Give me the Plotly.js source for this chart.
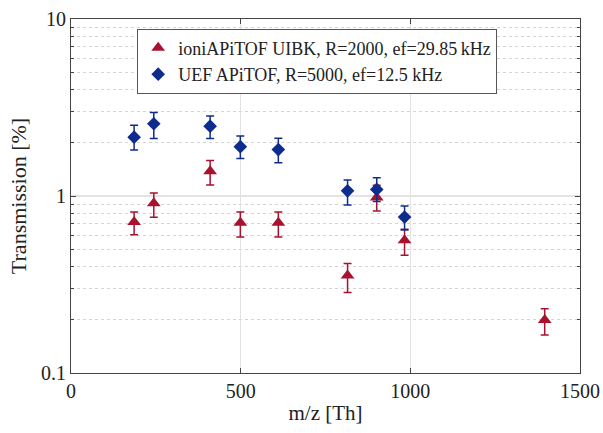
<!DOCTYPE html>
<html><head><meta charset="utf-8">
<script src="https://cdn.plot.ly/plotly-3.0.1.min.js"></script>
<style>html,body{margin:0;padding:0;background:#fff}#c{width:603px;height:433px}</style>
</head><body><div id="c"></div>
<script>
const mzIoni = [186, 244, 410, 499, 611, 815, 901, 983, 1396];
const trIoni = [0.713, 0.91, 1.38, 0.707, 0.707, 0.356, 0.98, 0.562, 0.199];
const errIoniPlus = [0.10, 0.13, 0.205, 0.105, 0.105, 0.059, 0.17, 0.086, 0.032];
const errIoniMinus = [0.108, 0.152, 0.226, 0.12, 0.12, 0.071, 0.157, 0.10, 0.035];

const mzUef = [186, 244, 410, 499, 611, 815, 901, 983];
const trUef = [2.15, 2.56, 2.48, 1.90, 1.83, 1.07, 1.09, 0.76];
const errUefPlus = [0.36, 0.40, 0.35, 0.28, 0.29, 0.16, 0.18, 0.118];
const errUefMinus = [0.33, 0.45, 0.37, 0.27, 0.29, 0.18, 0.16, 0.117];

const xTicks = [0, 500, 1000, 1500];
const yTicks = [0.1, 1, 10];
const yTickText = ['0.1', '1', '10'];

const red = '#A8122F', blue = '#0E2C8E';
const font = 'Liberation Serif, Times New Roman, serif';

const traces = [
  {x: mzIoni, y: trIoni, mode: 'markers', type: 'scatter',
   name: 'ioniAPiTOF UIBK, R=2000, ef=29.85\u2009kHz',
   marker: {symbol: 'triangle-up', size: 12, color: red},
   error_y: {type: 'data', symmetric: false, array: errIoniPlus, arrayminus: errIoniMinus,
             color: red, thickness: 1.5, width: 4}},
  {x: mzUef, y: trUef, mode: 'markers', type: 'scatter',
   name: 'UEF APiTOF, R=5000, ef=12.5 kHz',
   marker: {symbol: 'diamond', size: 10.5, color: blue},
   error_y: {type: 'data', symmetric: false, array: errUefPlus, arrayminus: errUefMinus,
             color: blue, thickness: 1.5, width: 4}}
];

const minorY = [];
[0.1, 1].forEach(d => { for (let k = 2; k <= 9; k++) minorY.push(+(d * k).toFixed(3)); });

const layout = {
  width: 603, height: 433,
  margin: {l: 71, r: 23, t: 19, b: 60},
  paper_bgcolor: '#fff', plot_bgcolor: '#fff',
  font: {family: font, size: 20, color: '#222'},
  showlegend: true,
  legend: {x: 0.13, y: 0.973, xanchor: 'left', yanchor: 'top',
           bgcolor: '#fff', bordercolor: '#555', borderwidth: 1,
           font: {family: font, size: 18, color: '#222'},
           tracegroupgap: 0, itemwidth: 30},
  xaxis: {range: [0, 1500], tickmode: 'array', tickvals: xTicks,
          ticks: 'inside', ticklen: 5, tickcolor: '#444', mirror: 'ticks',
          showline: true, linecolor: '#444', linewidth: 1,
          showgrid: true, gridcolor: '#e3e3e3', gridwidth: 1, zeroline: false,
          title: {text: 'm/z [Th]', font: {family: font, size: 21}, standoff: 4},
          tickfont: {family: font, size: 20}},
  yaxis: {type: 'log', range: [-1, 1], tickmode: 'array', tickvals: yTicks, ticktext: yTickText,
          ticks: 'inside', ticklen: 5, tickcolor: '#444', mirror: 'ticks',
          showline: true, linecolor: '#444', linewidth: 1,
          showgrid: true, gridcolor: '#e3e3e3', gridwidth: 2, zeroline: false,
          minor: {tickmode: 'array', tickvals: minorY, ticks: 'inside', ticklen: 3,
                  tickcolor: '#444', showgrid: true, gridcolor: '#d4d4d4', griddash: 'dot', gridwidth: 1},
          title: {text: 'Transmission [%]', font: {family: font, size: 22}, standoff: 8},
          tickfont: {family: font, size: 20}}
};

Plotly.newPlot('c', traces, layout, {displayModeBar: false, staticPlot: true});
</script></body></html>
